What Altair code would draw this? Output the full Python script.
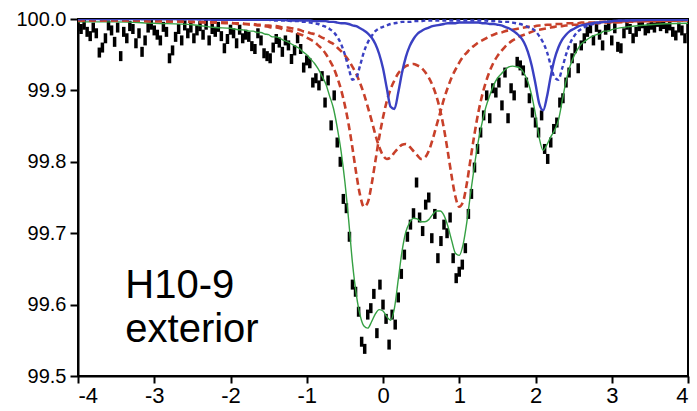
import altair as alt
import numpy as np
import pandas as pd

# Folded Mossbauer spectrum, velocity in mm/s, 0.04 mm/s per channel
v_start, v_step = -4.0, 0.04

# measured absorption below the 100 % baseline, in units of 0.001 %
depth_milli = [
    10, 14, 8, 18, 24, 12, 20, 47, 40, 27, 9, 16, 32, 12, 52, 18, 27, 10, 14, 34,
    20, 46, 30, 12, 8, 16, 22, 30, 11, 18, 55, 44, 25, 14, 30, 9, 20, 12, 27, 16,
    10, 22, 8, 30, 14, 18, 11, 24, 41, 28, 15,
    20, 34, 15, 27, 22, 25, 38, 42, 20, 30, 48, 52, 55, 40, 28, 33, 46, 30, 37, 56,
    44, 27, 42, 68, 58,
    62, 89, 83, 93, 80, 117, 86, 149, 107, 173, 200, 252, 265, 305, 372, 382, 410, 452, 462, 414,
    405, 385, 440, 372, 400, 420, 456, 414, 428, 390, 357, 330, 305, 288, 272, 229, 278, 297, 260, 250,
    307, 273, 335, 311, 288, 300, 278, 335, 363, 354, 344, 321, 273, 245, 208, 182, 159, 135, 107, 139,
    97, 103, 89, 121, 75, 139, 97, 107, 60, 65, 72, 89, 111, 131, 145, 159, 135, 182, 196, 173,
    154, 145, 117, 111, 89, 75, 55, 41, 69, 37, 27, 18, 13, 30, 11, 22, 37, 15, 9, 30,
    13, 39, 41, 20, 8, 14, 27, 18, 10, 6, 16, 13, 8, 12, 4, 10, 7, 13, 9, 18,
    23, 12, 16, 27, 14,
]
stat_error = 0.007  # +/- one standard deviation, %

# velocities at which the fitted subspectra are listed (mm/s)
fit_v = np.round(np.concatenate([[-4.0, -3.5, -3.0, -2.5, -2.2],
                                 np.arange(-2.0, 3.0001, 0.05),
                                 [3.2, 3.5, 4.0]]), 2)

# fitted subspectra, absorption in units of 0.001 %
fe3_a = [2, 2, 3, 4, 5, 6, 6, 7, 7, 7, 8, 8, 9, 9, 10, 11, 12, 12, 13, 15, 16, 17, 19, 21, 23, 26, 29,
         32, 37, 42, 49, 58, 68, 82, 99, 121, 148, 181, 217, 247, 263, 257, 232, 199, 166, 138, 115,
         98, 86, 76, 70, 66, 64, 63, 65, 68, 74, 82, 93, 108, 128, 154, 186, 220, 249, 263, 256, 230,
         195, 161, 131, 107, 88, 73, 61, 52, 45, 39, 34, 30, 27, 24, 22, 20, 18, 16, 15, 14, 13, 12,
         11, 10, 10, 9, 9, 8, 8, 7, 7, 6, 6, 6, 6, 5, 5, 5, 4, 3, 2]
fe3_b = [2, 2, 3, 4, 5, 5, 6, 6, 6, 7, 7, 7, 8, 8, 9, 9, 10, 10, 11, 12, 12, 13, 14, 15, 17, 18, 20,
         21, 23, 26, 28, 32, 35, 40, 45, 51, 58, 67, 77, 90, 105, 123, 142, 162, 179, 191, 196, 194,
         187, 181, 176, 175, 179, 185, 191, 196, 194, 185, 169, 150, 131, 112, 96, 82, 71, 61, 53, 47,
         41, 37, 33, 30, 27, 24, 22, 20, 19, 17, 16, 15, 14, 13, 12, 11, 11, 10, 9, 9, 8, 8, 7, 7, 7,
         6, 6, 6, 6, 5, 5, 5, 5, 5, 4, 4, 4, 4, 3, 3, 2]
fe2_a = [0, 0, 0, 0, 1, 1, 1, 1, 1, 1, 1, 1, 1, 1, 1, 1, 1, 1, 1, 1, 2, 2, 2, 2, 2, 2, 2, 3, 3, 3, 3,
         4, 4, 5, 6, 6, 7, 9, 10, 13, 16, 20, 26, 35, 49, 69, 97, 123, 126, 103, 75, 53, 38, 28, 21,
         17, 14, 12, 10, 9, 8, 7, 6, 6, 6, 5, 5, 5, 5, 5, 5, 6, 6, 7, 7, 8, 9, 11, 13, 16, 20, 25, 33,
         46, 65, 91, 119, 128, 109, 80, 56, 40, 29, 22, 17, 14, 11, 9, 8, 7, 6, 5, 5, 4, 4, 3, 2, 1, 1]
fe2_b = [0, 0, 0, 0, 1, 1, 1, 1, 1, 1, 1, 1, 1, 1, 1, 1, 2, 2, 2, 2, 2, 3, 3, 3, 4, 4, 5, 6, 7, 9, 11,
         14, 18, 25, 35, 50, 69, 85, 82, 65, 46, 33, 24, 17, 13, 11, 9, 7, 6, 5, 4, 4, 4, 3, 3, 3, 2,
         2, 2, 2, 2, 2, 2, 2, 2, 2, 2, 2, 2, 2, 2, 2, 2, 3, 3, 3, 4, 4, 4, 5, 6, 7, 9, 11, 13, 17, 24,
         33, 46, 65, 82, 85, 69, 50, 35, 25, 18, 14, 11, 9, 7, 6, 5, 4, 4, 3, 2, 1, 1]

vel = v_start + v_step * np.arange(len(depth_milli))
spec = pd.DataFrame({"v": vel, "t": 100 - np.array(depth_milli) / 1000})
spec["lo"] = spec["t"] - stat_error
spec["hi"] = spec["t"] + stat_error

subspectra = {"Fe3+ A": fe3_a, "Fe3+ B": fe3_b, "Fe2+ A": fe2_a, "Fe2+ B": fe2_b}
fits = pd.concat([pd.DataFrame({"v": fit_v, "t": 100 - np.array(d) / 1000, "comp": k})
                  for k, d in subspectra.items()])
# envelope of the fit: sum of the subspectra
fit_total = pd.DataFrame({"v": fit_v,
                          "t": 100 - np.sum([np.array(d) for d in subspectra.values()], axis=0) / 1000})

x_scale = alt.Scale(domain=[-4, 4], nice=False, zero=False)
y_scale = alt.Scale(domain=[99.5, 100.0], nice=False, zero=False)
x_axis = alt.Axis(values=list(range(-4, 5)), labelExpr="'' + datum.value", title=None)
y_axis = alt.Axis(values=[99.5, 99.6, 99.7, 99.8, 99.9, 100.0], format=".1f", title=None)
xs = alt.X("v:Q", scale=x_scale, axis=x_axis)
ys = alt.Y("t:Q", scale=y_scale, axis=y_axis)

bars = alt.Chart(spec).mark_rule(color="black", strokeWidth=3.5, clip=True).encode(
    x=xs, y=alt.Y("lo:Q", scale=y_scale, axis=y_axis), y2="hi:Q")

green = alt.Chart(fit_total).mark_line(
    color="#35a043", strokeWidth=1.4, interpolate="monotone", clip=True).encode(x=xs, y=ys)

red = alt.Chart(fits[fits["comp"].str.startswith("Fe3+")]).mark_line(
    color="#c8402a", strokeWidth=2.6, strokeDash=[7, 4], interpolate="monotone", clip=True
).encode(x=xs, y=ys, detail="comp:N")
blue_d = alt.Chart(fits[fits["comp"] == "Fe2+ B"]).mark_line(
    color="#3a40c2", strokeWidth=2.4, strokeDash=[4, 3], interpolate="monotone", clip=True
).encode(x=xs, y=ys)
blue_s = alt.Chart(fits[fits["comp"] == "Fe2+ A"]).mark_line(
    color="#3a40c2", strokeWidth=2.4, interpolate="monotone", clip=True).encode(x=xs, y=ys)

label = pd.DataFrame({"v": [-3.38, -3.38], "t": [99.609, 99.548], "txt": ["H10-9", "exterior"]})
text = alt.Chart(label).mark_text(align="left", baseline="alphabetic", fontSize=40,
                                  font="Liberation Sans", color="black").encode(
    x=xs, y=ys, text="txt:N")

chart = alt.layer(bars, green, red, blue_d, blue_s, text).properties(
    width=610, height=357,
    autosize=alt.AutoSizeParams(type="none"),
    padding={"left": 78, "top": 19, "right": 9, "bottom": 35},
).configure_view(stroke="black", strokeWidth=2).configure_axis(
    grid=False, labelFont="Liberation Sans", labelColor="black",
    domainColor="black", domainWidth=2, tickColor="black", tickWidth=2,
).configure_axisX(
    labelFontSize=22, tickSize=7, labelPadding=2,
).configure_axisY(
    labelFontSize=20, tickSize=8, labelPadding=4,
)

chart.save("out.html", embed_options={"renderer": "svg", "actions": False})
